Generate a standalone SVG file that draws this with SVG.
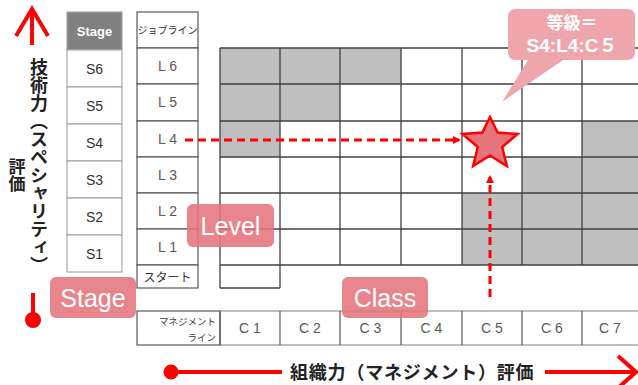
<svg xmlns="http://www.w3.org/2000/svg" width="638" height="385" viewBox="0 0 638 385">
<style>
.t{font-family:"Liberation Sans","Noto Sans CJK JP",sans-serif}
.jp{font-family:"Noto Sans CJK JP","Liberation Sans",sans-serif}
.cell{fill:#fff;stroke:#a6a6a6;stroke-width:1.2}
.jcell{fill:#fff;stroke:#595959;stroke-width:1.2}
.g{fill:#bfbfbf}
.gl{stroke:#404040;stroke-width:1.3;fill:none}
.st{font-size:14px;fill:#333;text-anchor:middle}
.lv{font-size:14px;fill:#595959;text-anchor:middle}
.lbl{fill:#e5747c;opacity:0.88}
.lt{font-size:25px;fill:#fff;text-anchor:middle}
.red{stroke:#ff0000;fill:none}
.dash{stroke:#ff0000;stroke-width:3;stroke-dasharray:8 5;fill:none}
</style>
<defs>
<marker id="ah" markerWidth="8" markerHeight="8" refX="6" refY="4" orient="auto" markerUnits="userSpaceOnUse">
<path d="M0,0 L8,4 L0,8 z" fill="#ff0000"/>
</marker>
</defs>

<g id="stage-column">
<rect x="67" y="12" width="55" height="38" fill="#808080" stroke="#a6a6a6" stroke-width="1.2"/>
<text class="t" x="94.5" y="36" font-size="13" font-weight="bold" fill="#fff" text-anchor="middle">Stage</text>
<rect class="cell" x="67" y="50" width="55" height="37"/>
<rect class="cell" x="67" y="87" width="55" height="37"/>
<rect class="cell" x="67" y="124" width="55" height="37"/>
<rect class="cell" x="67" y="161" width="55" height="37"/>
<rect class="cell" x="67" y="198" width="55" height="37"/>
<rect class="cell" x="67" y="235" width="55" height="37"/>
<text class="t st" x="94.5" y="74">S6</text>
<text class="t st" x="94.5" y="111">S5</text>
<text class="t st" x="94.5" y="148">S4</text>
<text class="t st" x="94.5" y="185">S3</text>
<text class="t st" x="94.5" y="222">S2</text>
<text class="t st" x="94.5" y="259">S1</text>
</g>

<g id="job-column">
<rect class="jcell" x="137" y="12" width="61" height="36"/>
<text class="jp" x="167.5" y="34" font-size="10" fill="#333" text-anchor="middle">ジョブライン</text>
<rect class="jcell" x="137" y="48" width="61" height="36"/>
<rect class="jcell" x="137" y="84" width="61" height="37"/>
<rect class="jcell" x="137" y="121" width="61" height="36"/>
<rect class="jcell" x="137" y="157" width="61" height="36"/>
<rect class="jcell" x="137" y="193" width="61" height="36"/>
<rect class="jcell" x="137" y="229" width="61" height="36"/>
<rect class="jcell" x="137" y="265" width="61" height="23"/>
<text class="t lv" x="167.5" y="71">L 6</text>
<text class="t lv" x="167.5" y="107">L 5</text>
<text class="t lv" x="167.5" y="144">L 4</text>
<text class="t lv" x="167.5" y="180">L 3</text>
<text class="t lv" x="167.5" y="216">L 2</text>
<text class="t lv" x="167.5" y="252">L 1</text>
<text class="jp" x="167.5" y="282" font-size="12" fill="#333" text-anchor="middle">スタート</text>
</g>

<g id="grid">
<rect class="g" x="220" y="48" width="181" height="36"/>
<rect class="g" x="220" y="84" width="120" height="37"/>
<rect class="g" x="220" y="121" width="60" height="36"/>
<rect class="g" x="582" y="121" width="56" height="36"/>
<rect class="g" x="522" y="157" width="116" height="36"/>
<rect class="g" x="462" y="193" width="176" height="72"/>
<path class="gl" d="M220,48 H638 M220,84 H638 M220,121 H638 M220,157 H638 M220,193 H638 M220,229 H638 M220,265 H638"/>
<path class="gl" d="M220,48 V288 M280,48 V288 M340,48 V265 M401,48 V265 M462,48 V265 M522,48 V265 M582,48 V265 M220,288 H280"/>
</g>

<g id="class-row">
<rect x="137" y="311" width="83" height="34" fill="#fff" stroke="#595959" stroke-width="1.2"/>
<text class="jp" x="216" y="325" font-size="9.5" fill="#404040" text-anchor="end">マネジメント</text>
<text class="jp" x="216" y="341" font-size="9.5" fill="#404040" text-anchor="end">ライン</text>
<path d="M220,311 H638 M220,345 H638" stroke="#7f7f7f" stroke-width="1.2" fill="none"/>
<path d="M220,311 V345 M280,311 V345 M340,311 V345 M401,311 V345 M462,311 V345 M522,311 V345 M582,311 V345" stroke="#595959" stroke-width="1.2" fill="none"/>
<text class="t lv" x="250" y="333">C 1</text>
<text class="t lv" x="310" y="333">C 2</text>
<text class="t lv" x="370.5" y="333">C 3</text>
<text class="t lv" x="431.5" y="333">C 4</text>
<text class="t lv" x="492" y="333">C 5</text>
<text class="t lv" x="552" y="333">C 6</text>
<text class="t lv" x="610" y="333">C 7</text>
</g>

<g id="connectors">
<line class="dash" x1="185" y1="140" x2="459" y2="140" marker-end="url(#ah)"/>
<line class="dash" x1="490" y1="297" x2="490" y2="177" marker-end="url(#ah)"/>
</g>

<g id="star">
<polygon points="490,117 497.6,132.5 517.6,134 502.2,147 506.9,166 490,155.5 473.1,166 477.8,147 462.4,134 482.4,132.5" fill="#e5747c" stroke="#ff0000" stroke-width="2.5" stroke-linejoin="miter"/>
</g>

<g id="callout">
<path d="M516,9 H627 Q635,9 635,17 V52 Q635,60 627,60 H563 L502,102 L528,60 H516 Q508,60 508,52 V17 Q508,9 516,9 Z" fill="#eea5ab"/>
<text class="jp" x="572" y="29" font-size="17" font-weight="bold" fill="#fff" text-anchor="middle">等級＝</text>
<text class="t" x="572" y="52" font-size="19" font-weight="bold" fill="#fff" text-anchor="middle">S4:L4:C５</text>
</g>

<g id="label-stage">
<rect class="lbl" x="50" y="277" width="86" height="41" rx="6"/>
<text class="t lt" x="93" y="306.5">Stage</text>
</g>
<g id="label-level">
<rect class="lbl" x="187" y="204" width="87" height="43" rx="6"/>
<text class="t lt" x="230.5" y="234.5">Level</text>
</g>
<g id="label-class">
<rect class="lbl" x="342" y="277" width="86" height="41" rx="6"/>
<text class="t lt" x="385" y="306.5">Class</text>
</g>

<g id="axis-vertical">
<path class="red" stroke-width="4" d="M32,45 V9 M16,36 L32,9 L48,36"/>
<path class="red" stroke-width="4" d="M33,293 V318"/>
<circle cx="33" cy="320" r="8" fill="#ff0000"/>
<text class="jp" x="39" y="58" font-size="18" font-weight="bold" fill="#222" style="writing-mode:vertical-rl">技術力（スペシャリティ）</text>
<text class="jp" x="17" y="158" font-size="17" font-weight="bold" fill="#222" style="writing-mode:vertical-rl">評価</text>
</g>

<g id="axis-horizontal">
<path class="red" stroke-width="4" d="M171,372 H282 M545,372 H635 M618,356 L636,372 L618,388"/>
<circle cx="171" cy="372" r="7.5" fill="#ff0000"/>
<text class="jp" x="290" y="379" font-size="18" font-weight="bold" fill="#222" letter-spacing="0.8">組織力（マネジメント）評価</text>
</g>
</svg>
